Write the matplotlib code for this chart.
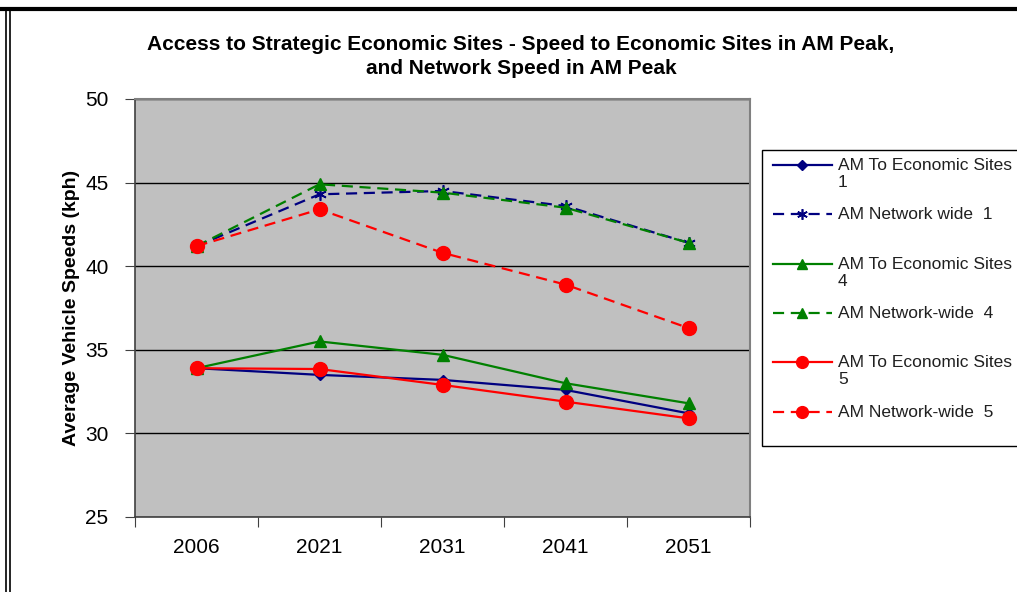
import matplotlib
matplotlib.use("Agg")
import matplotlib.pyplot as plt
from matplotlib.lines import Line2D
from matplotlib.patches import Rectangle

plt.rcParams['font.family'] = ['Liberation Sans', 'DejaVu Sans']

years = ["2006", "2021", "2031", "2041", "2051"]
eco1 = [33.9, 33.5, 33.2, 32.6, 31.2]
net1 = [41.2, 44.3, 44.5, 43.6, 41.4]
eco4 = [33.9, 35.5, 34.7, 33.0, 31.8]
net4 = [41.2, 44.9, 44.4, 43.5, 41.4]
eco5 = [33.9, 33.85, 32.9, 31.9, 30.9]
net5 = [41.2, 43.4, 40.8, 38.9, 36.3]
labels = ["AM To Economic Sites\n1", "AM Network wide  1",
          "AM To Economic Sites\n4", "AM Network-wide  4",
          "AM To Economic Sites\n5", "AM Network-wide  5"]
yticks = [25, 30, 35, 40, 45, 50]

dash = (0, (5, 3))
styles = [
    dict(color="#000080", ls="-", marker="D", ms=5.5),
    dict(color="#000080", ls=dash, marker=(6, 2, 0), ms=9, mew=1.2),
    dict(color="#008000", ls="-", marker="^", ms=9),
    dict(color="#008000", ls=dash, marker="^", ms=9),
    dict(color="#FF0000", ls="-", marker="o", ms=10),
    dict(color="#FF0000", ls=dash, marker="o", ms=10),
]
series = [eco1, net1, eco4, net4, eco5, net5]

W, H = 1017, 592
fig = plt.figure(figsize=(W / 100, H / 100), dpi=100)
ax = fig.add_axes([135 / W, 1 - 517 / H, (750 - 135) / W, (517 - 99) / H])
ax.set_facecolor("#C0C0C0")

xs = [i + 0.5 for i in range(len(years))]
draw_order = [1, 3, 5, 0, 2, 4]
for k in draw_order:
    st = styles[k]
    ax.plot(xs, series[k], color=st["color"], linestyle=st["ls"], lw=1.6,
            marker=st["marker"], markersize=st["ms"], markeredgewidth=st.get("mew", 1),
            markerfacecolor=st["color"], markeredgecolor=st["color"], zorder=3)

ax.set_xlim(0, len(years))
ax.set_ylim(25, 50)
ax.set_yticks(yticks)
ax.set_yticklabels([str(v) for v in yticks], fontsize=15)
ax.set_xticks(range(len(years) + 1))
ax.set_xticklabels([])
ax.set_xticks(xs, minor=True)
ax.set_xticklabels(years, minor=True, fontsize=15)
ax.tick_params(axis="x", which="minor", length=0, pad=15)
ax.tick_params(axis="x", which="major", length=7, direction="out", color="#404040")
ax.tick_params(axis="y", length=7, direction="out", color="#404040", pad=12)
ax.yaxis.grid(True, color="black", lw=1)
ax.set_axisbelow(True)
for s in ["top", "right"]:
    ax.spines[s].set_color("#808080")
    ax.spines[s].set_linewidth(1.5)
for s in ["left", "bottom"]:
    ax.spines[s].set_color("#404040")
    ax.spines[s].set_linewidth(1.2)

ax.set_ylabel("Average Vehicle Speeds (kph)", fontsize=14, fontweight="bold", labelpad=4)

fig.text(521 / W, 1 - 56.5 / H,
         "Access to Strategic Economic Sites - Speed to Economic Sites in AM Peak,\nand Network Speed in AM Peak",
         ha="center", va="center", fontsize=15, fontweight="bold", linespacing=1.32)

# Legend (drawn manually to match layout)
fig.patches.append(Rectangle((762 / W, 1 - 446 / H), 270 / W, (446 - 150) / H,
                             transform=fig.transFigure, facecolor="white",
                             edgecolor="black", lw=1, figure=fig))
entry_y = [165, 214, 264, 313, 362, 412]
for k, yy in enumerate(entry_y):
    st = styles[k]
    yf = 1 - yy / H
    fig.add_artist(Line2D([773 / W, 832 / W], [yf, yf], transform=fig.transFigure,
                          color=st["color"], linestyle=st["ls"], lw=1.6))
    fig.add_artist(Line2D([802 / W], [yf], transform=fig.transFigure,
                          color=st["color"], marker=st["marker"], markersize=st["ms"] * 0.85,
                          markeredgewidth=st.get("mew", 1),
                          markerfacecolor=st["color"], markeredgecolor=st["color"]))
    fig.text(838 / W, yf + 7 / H, labels[k], ha="left", va="top", fontsize=12.5,
             color="#202020", linespacing=1.2)

# Outer frame
fig.add_artist(Line2D([0, 1], [1 - 9 / H, 1 - 9 / H], transform=fig.transFigure,
                      color="black", lw=3))
fig.add_artist(Line2D([6 / W, 6 / W], [0, 1 - 9 / H], transform=fig.transFigure,
                      color="black", lw=1.2))
fig.add_artist(Line2D([9.5 / W, 9.5 / W], [0, 1 - 9 / H], transform=fig.transFigure,
                      color="black", lw=1.2))

fig.savefig("out.png", dpi=100)
